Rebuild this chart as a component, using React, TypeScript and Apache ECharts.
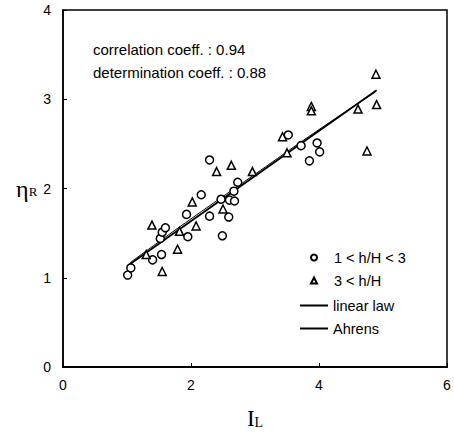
import React, { useEffect, useRef } from "react";
import * as echarts from "echarts";

const circlePts: number[][] = [
  [1.01, 1.03], [1.06, 1.11], [1.40, 1.20], [1.54, 1.26], [1.52, 1.44], [1.55, 1.51],
  [1.60, 1.56], [1.93, 1.71], [1.95, 1.46], [2.16, 1.93], [2.29, 1.69], [2.29, 2.32],
  [2.47, 1.88], [2.60, 1.87], [2.68, 1.86], [2.59, 1.68], [2.49, 1.47], [2.73, 2.07],
  [2.67, 1.97], [3.52, 2.60], [3.72, 2.48], [3.97, 2.51], [4.01, 2.41], [3.85, 2.31],
];
const trianglePts: number[][] = [
  [1.30, 1.26], [1.39, 1.59], [1.55, 1.07], [1.79, 1.32], [1.82, 1.52], [2.02, 1.85],
  [2.08, 1.58], [2.40, 2.19], [2.50, 1.77], [2.63, 2.26], [2.96, 2.19], [3.43, 2.58],
  [3.50, 2.40], [3.88, 2.92], [3.88, 2.87], [4.61, 2.89], [4.75, 2.42], [4.89, 3.28],
  [4.90, 2.94],
];
const linearLaw: number[][] = [[1.0, 1.13], [4.9, 3.1]];
const ahrens: number[][] = [[1.05, 1.17], [2.0, 1.66], [3.0, 2.16], [4.0, 2.66], [4.88, 3.08]];
const legendNames = ["1 < h/H < 3", "3 < h/H", "linear law", "Ahrens"];
const statLines = ["correlation coeff. : 0.94", "determination coeff. : 0.88"];

export default function App() {
  const ref = useRef<HTMLDivElement>(null);
  useEffect(() => {
    if (!ref.current) return;
    const chart = echarts.init(ref.current, null, { renderer: "svg" });
    const font = "'Liberation Sans', Arial, sans-serif";
    const serif = "'Liberation Serif', 'DejaVu Serif', serif";
    const legendText = { fontFamily: font, fontSize: 14.5, color: "#000" };
    chart.setOption({
      animation: false,
      backgroundColor: "#fff",
      textStyle: { fontFamily: font, color: "#000" },
      grid: {
        left: 63, right: 7, top: 10, bottom: 66,
        show: true, borderColor: "#000", borderWidth: 1.5,
      },
      xAxis: {
        type: "value", min: 0, max: 6, interval: 2,
        axisLine: { show: true, onZero: false, lineStyle: { color: "#000", width: 2 } },
        axisTick: { show: true, inside: true, length: 4, lineStyle: { color: "#000" } },
        axisLabel: { color: "#000", fontSize: 14, fontFamily: font, margin: 11 },
        splitLine: { show: false },
        name: "{a|I}{b|L}",
        nameLocation: "middle",
        nameGap: 40,
        nameTextStyle: {
          rich: {
            a: { fontFamily: serif, fontSize: 23, color: "#000" },
            b: { fontFamily: serif, fontSize: 14, color: "#000", padding: [8, 0, 0, 0] },
          },
        },
      },
      yAxis: {
        type: "value", min: 0, max: 4, interval: 1,
        axisLine: { show: true, onZero: false, lineStyle: { color: "#000", width: 1.5 } },
        axisTick: { show: true, inside: true, length: 4, lineStyle: { color: "#000" } },
        axisLabel: { color: "#000", fontSize: 14, fontFamily: font, margin: 12 },
        splitLine: { show: false },
        name: "{a|η}{b|R}",
        nameLocation: "middle",
        nameRotate: 0,
        nameGap: 22,
        nameTextStyle: {
          rich: {
            a: { fontFamily: serif, fontSize: 24, color: "#000" },
            b: { fontFamily: serif, fontSize: 13, color: "#000", padding: [6, 0, 0, 0] },
          },
        },
      },
      legend: [
        {
          orient: "vertical",
          left: 305,
          top: 245,
          itemWidth: 6,
          itemHeight: 6,
          itemGap: 8,
          textStyle: { ...legendText, padding: [0, 0, 0, 12] },
          data: [
            { name: legendNames[0], icon: "circle" },
            { name: legendNames[1], icon: "triangle" },
          ],
        },
        {
          orient: "vertical",
          left: 295,
          top: 293,
          itemWidth: 28,
          itemHeight: 2,
          itemGap: 8,
          textStyle: { ...legendText, padding: [0, 0, 0, 0] },
          data: [
            { name: legendNames[2], icon: "rect" },
            { name: legendNames[3], icon: "rect" },
          ],
        },
      ],
      graphic: [
        {
          type: "text",
          left: 93,
          top: 38,
          style: {
            text: statLines.join("\n"),
            font: `15px ${font}`,
            fill: "#000",
            lineHeight: 23,
          },
        },
      ],
      series: [
        {
          name: legendNames[0],
          type: "scatter",
          symbol: "circle",
          symbolSize: 8,
          itemStyle: { color: "#fff", borderColor: "#000", borderWidth: 1.5, opacity: 1 },
          data: circlePts,
          z: 3,
        },
        {
          name: legendNames[1],
          type: "scatter",
          symbol: "triangle",
          symbolSize: 8,
          itemStyle: { color: "#fff", borderColor: "#000", borderWidth: 1.5, opacity: 1 },
          data: trianglePts,
          z: 3,
        },
        {
          name: legendNames[2],
          type: "line",
          symbol: "none",
          lineStyle: { color: "#000", width: 1.8 },
          itemStyle: { color: "#000" },
          data: linearLaw,
          z: 2,
        },
        {
          name: legendNames[3],
          type: "line",
          symbol: "none",
          smooth: true,
          lineStyle: { color: "#000", width: 1 },
          itemStyle: { color: "#000" },
          data: ahrens,
          z: 2,
        },
      ],
    });
    return () => chart.dispose();
  }, []);
  return (
    <div
      ref={ref}
      style={{ position: "absolute", left: 0, top: 0, width: 454, height: 435 }}
    />
  );
}
